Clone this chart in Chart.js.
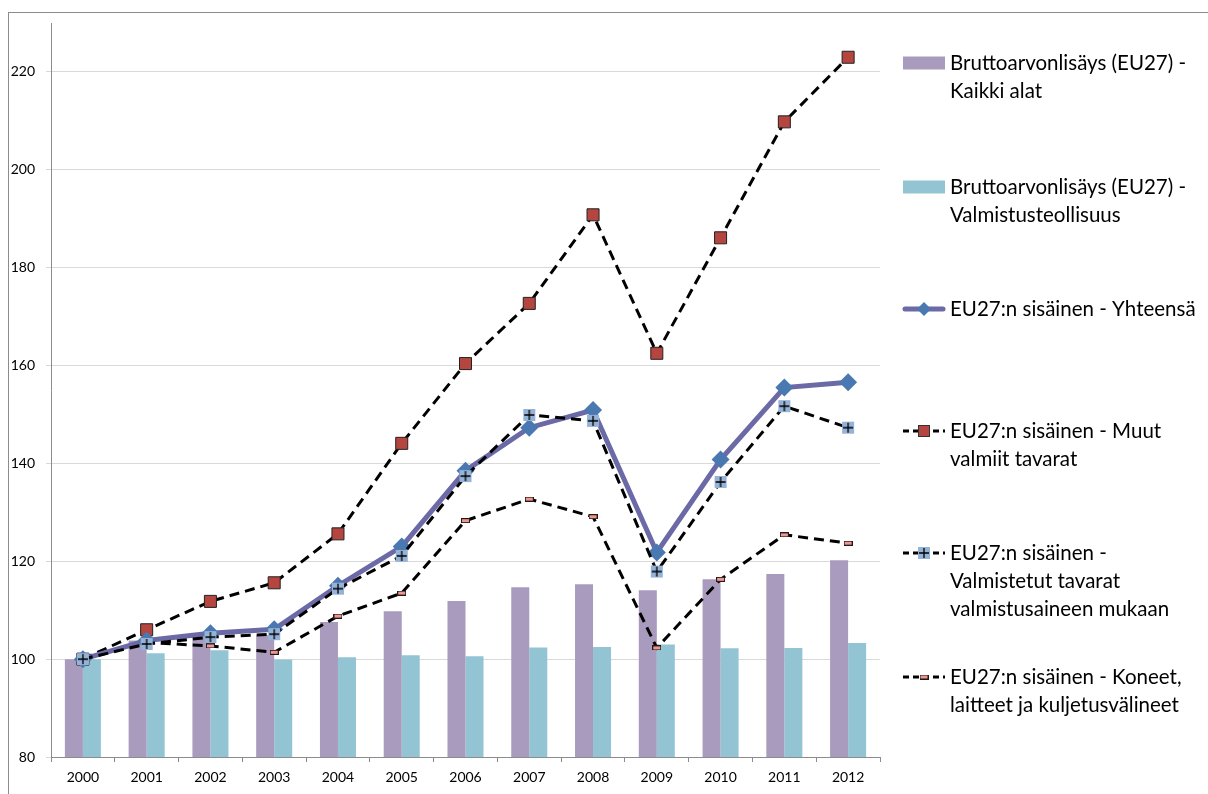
<!DOCTYPE html>
<html>
<head>
<meta charset="utf-8">
<script src="https://cdn.jsdelivr.net/npm/chart.js@4.4.1/dist/chart.umd.min.js"></script>
<style>
  html, body { margin: 0; padding: 0; background: #fff; }
  #wrap { position: relative; width: 1208px; height: 794px; overflow: hidden; }
  #frame { position: absolute; left: 8px; top: 12px; width: 1400px; height: 1000px;
           border-top: 1px solid #8c8c8c; border-left: 1px solid #8c8c8c; }
  canvas { position: absolute; left: 0; top: 0; }
</style>
</head>
<body>
<div id="wrap">
  <div id="frame"></div>
  <canvas id="chart" width="1208" height="794"></canvas>
</div>
<script>
// Vuodet
const years = ['2000', '2001', '2002', '2003', '2004', '2005', '2006', '2007', '2008', '2009', '2010', '2011', '2012'];

// Pylväät
const kaikkiAlat = [100, 103.8, 104.6, 104.9, 107.6, 109.8, 111.9, 114.7, 115.3, 114.1, 116.3, 117.4, 120.2];
const valmistusteollisuus = [100, 101.2, 101.8, 99.9, 100.4, 100.8, 100.6, 102.4, 102.5, 103.0, 102.2, 102.3, 103.3];

// Viivat
const yhteensa = [100, 103.8, 105.3, 106.1, 115.0, 123.0, 138.5, 147.3, 150.9, 121.8, 140.8, 155.5, 156.6];
const muutValmiit = [100, 106.0, 111.8, 115.6, 125.6, 144.1, 160.4, 172.7, 190.8, 162.5, 186.1, 209.8, 223.0];
const valmistetut = [100, 103.1, 104.5, 105.1, 114.4, 121.1, 137.4, 149.9, 148.7, 117.9, 136.2, 151.7, 147.3];
const koneet = [100, 103.4, 102.7, 101.4, 108.8, 113.5, 128.3, 132.7, 129.1, 102.3, 116.3, 125.4, 123.7];

// Y-akselin asteikko
const yMin = 80;
const yMax = 230;
const yStep = 20;

const FONT = 'Lato, "Open Sans", sans-serif';

// Merkit pieninä canvaksina
function plusMarker() {
    const c = document.createElement('canvas');
    c.width = 14; c.height = 14;
    const g = c.getContext('2d');
    g.fillStyle = '#95b3d7';
    g.fillRect(1, 1, 12, 12);
    g.strokeStyle = '#000';
    g.lineWidth = 1.3;
    g.beginPath();
    g.moveTo(7, 2); g.lineTo(7, 12);
    g.moveTo(2, 7); g.lineTo(12, 7);
    g.stroke();
    return c;
}
function dashMarker() {
    const c = document.createElement('canvas');
    c.width = 9; c.height = 5;
    const g = c.getContext('2d');
    g.fillStyle = '#e89a92';
    g.fillRect(0.5, 0.5, 8, 4);
    g.strokeStyle = '#2a1515';
    g.lineWidth = 1;
    g.strokeRect(0.5, 0.5, 8, 4);
    return c;
}
const plusImg = plusMarker();
const dashImg = dashMarker();

// Selite oikealle
const legendItems = [
    { type: 'bar', color: '#a99bbd', lines: ['Bruttoarvonlisäys (EU27) -', 'Kaikki alat'], y: 63 },
    { type: 'bar', color: '#93c4d4', lines: ['Bruttoarvonlisäys (EU27) -', 'Valmistusteollisuus'], y: 187 },
    { type: 'diamond', lines: ['EU27:n sisäinen - Yhteensä'], y: 309 },
    { type: 'square', lines: ['EU27:n sisäinen - Muut', 'valmiit tavarat'], y: 431 },
    { type: 'plus', lines: ['EU27:n sisäinen -', 'Valmistetut tavarat', 'valmistusaineen mukaan'], y: 553 },
    { type: 'dash', lines: ['EU27:n sisäinen - Koneet,', 'laitteet ja kuljetusvälineet'], y: 677 }
];

const legendPlugin = {
    id: 'sideLegend',
    afterDraw(chart) {
        const ctx = chart.ctx;
        const x0 = 903, x1 = 945, xm = 924;
        ctx.save();
        legendItems.forEach(item => {
            const y = item.y;
            if (item.type === 'bar') {
                ctx.fillStyle = item.color;
                ctx.fillRect(x0, y - 6.5, x1 - x0, 13);
            } else if (item.type === 'diamond') {
                ctx.strokeStyle = '#6b69a6';
                ctx.lineWidth = 5;
                ctx.lineCap = 'round';
                ctx.beginPath(); ctx.moveTo(x0 + 2, y); ctx.lineTo(x1 - 2, y); ctx.stroke();
                ctx.fillStyle = '#4a78b0';
                ctx.beginPath();
                ctx.moveTo(xm, y - 7); ctx.lineTo(xm + 7, y); ctx.lineTo(xm, y + 7); ctx.lineTo(xm - 7, y);
                ctx.closePath(); ctx.fill();
            } else {
                ctx.strokeStyle = '#000';
                ctx.lineWidth = 3;
                ctx.lineCap = 'butt';
                ctx.setLineDash([6, 4]);
                ctx.beginPath(); ctx.moveTo(x0, y); ctx.lineTo(x1, y); ctx.stroke();
                ctx.setLineDash([]);
                if (item.type === 'square') {
                    ctx.fillStyle = '#b5453f';
                    ctx.fillRect(xm - 5.5, y - 5.5, 11, 11);
                    ctx.strokeStyle = '#333';
                    ctx.lineWidth = 1;
                    ctx.strokeRect(xm - 5.5, y - 5.5, 11, 11);
                } else if (item.type === 'plus') {
                    ctx.drawImage(plusImg, xm - 7, y - 7);
                } else if (item.type === 'dash') {
                    ctx.drawImage(dashImg, xm - 4.5, y - 2.5);
                }
            }
            ctx.fillStyle = '#000';
            ctx.font = '20.5px ' + FONT;
            ctx.textBaseline = 'middle';
            ctx.textAlign = 'left';
            item.lines.forEach((t, i) => ctx.fillText(t, 950, y + i * 28));
        });
        ctx.restore();
    }
};

const lineDefaults = {
    type: 'line',
    tension: 0,
    fill: false,
    borderColor: '#000',
    borderWidth: 3,
    borderDash: [10, 6]
};

const ctx = document.getElementById('chart').getContext('2d');
new Chart(ctx, {
    type: 'bar',
    data: {
        labels: years,
        datasets: [
            { label: 'Bruttoarvonlisäys (EU27) - Kaikki alat', data: kaikkiAlat, backgroundColor: '#a99bbd', order: 10 },
            { label: 'Bruttoarvonlisäys (EU27) - Valmistusteollisuus', data: valmistusteollisuus, backgroundColor: '#93c4d4', order: 10 },
            Object.assign({}, lineDefaults, {
                label: 'EU27:n sisäinen - Koneet, laitteet ja kuljetusvälineet', data: koneet,
                pointStyle: dashImg, order: 5
            }),
            Object.assign({}, lineDefaults, {
                label: 'EU27:n sisäinen - Muut valmiit tavarat', data: muutValmiit,
                pointStyle: 'rect', pointRadius: 8.5, pointBackgroundColor: '#b5453f',
                pointBorderColor: '#222', pointBorderWidth: 1, order: 4
            }),
            {
                type: 'line', label: 'EU27:n sisäinen - Yhteensä', data: yhteensa, tension: 0,
                borderColor: '#6b69a6', borderWidth: 5, fill: false,
                pointStyle: 'rectRot', pointRadius: 9, pointBackgroundColor: '#4a78b0',
                pointBorderColor: '#4a78b0', pointBorderWidth: 0, order: 3
            },
            Object.assign({}, lineDefaults, {
                label: 'EU27:n sisäinen - Valmistetut tavarat valmistusaineen mukaan', data: valmistetut,
                pointStyle: plusImg, order: 2
            })
        ]
    },
    options: {
        responsive: false,
        animation: false,
        layout: { padding: { top: 23, right: 328, left: 0, bottom: 0 } },
        datasets: {
            bar: { barPercentage: 1, categoryPercentage: 0.565 }
        },
        plugins: {
            legend: { display: false },
            tooltip: { enabled: false }
        },
        scales: {
            x: {
                offset: true,
                grid: { display: true, drawOnChartArea: false, drawTicks: true, tickLength: 5, offset: true, color: '#8c8c8c' },
                border: { color: '#8c8c8c', width: 1 },
                ticks: { color: '#000', font: { family: FONT, size: 14 }, padding: 7, maxRotation: 0 },
                afterFit(scale) { scale.height = 37; }
            },
            y: {
                min: yMin,
                max: yMax,
                ticks: { stepSize: yStep, color: '#000', font: { family: FONT, size: 14 }, padding: 11 },
                grid: { color: '#d9d9d9', tickLength: 5, drawTicks: true },
                border: { color: '#8c8c8c', width: 1 },
                afterBuildTicks(scale) {
                    scale.ticks = scale.ticks.filter(t => t.value !== yMax);
                },
                afterFit(scale) { scale.width = 51; }
            }
        }
    },
    plugins: [legendPlugin]
});
</script>
</body>
</html>
